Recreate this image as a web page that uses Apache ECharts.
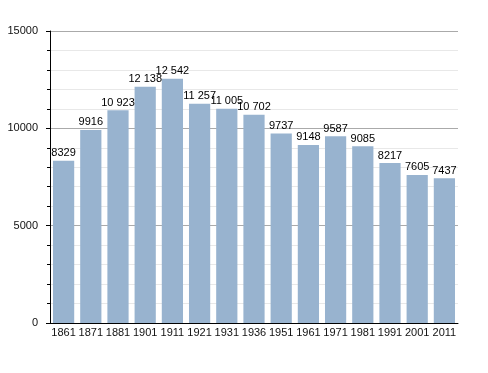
<!DOCTYPE html>
<html><head><meta charset="utf-8">
<script src="https://cdn.jsdelivr.net/npm/echarts@6/dist/echarts.min.js"></script>
<style>html,body{margin:0;padding:0;background:#fff}#c{width:488px;height:373px}</style>
</head><body><div id="c"></div>
<script>
var categories = ['1861','1871','1881','1901','1911','1921','1931','1936','1951','1961','1971','1981','1991','2001','2011'];
var population = [8329,9916,10923,12138,12542,11257,11005,10702,9737,9148,9587,9085,8217,7605,7437];
var yTicks = [0,5000,10000,15000];

function fmt(v){
  if (v >= 10000) { var s = String(v); return s.slice(0, s.length-3) + ' ' + s.slice(-3); }
  return String(v);
}
var chart = echarts.init(document.getElementById('c'), null, {renderer:'canvas'});
chart.setOption({
  animation:false,
  backgroundColor:'#fff',
  grid:{left:50,right:30,top:31,bottom:50,containLabel:false},
  xAxis:{
    type:'category', data:categories,
    axisLine:{lineStyle:{color:'#000',width:1}},
    axisTick:{show:false},
    axisLabel:{color:'#111',fontFamily:'Liberation Sans, Arial, sans-serif',fontSize:11,margin:4,interval:0}
  },
  yAxis:{
    type:'value', min:yTicks[0], max:yTicks[yTicks.length-1], interval:5000,
    axisLine:{show:true,lineStyle:{color:'#000',width:1}},
    axisTick:{show:true,length:4,lineStyle:{color:'#000'}},
    minorTick:{show:true,splitNumber:5,length:3,lineStyle:{color:'#000'}},
    splitLine:{show:true,lineStyle:{color:'#aaaaaa',width:1}},
    minorSplitLine:{show:true,lineStyle:{color:'#e8e8e8',width:1}},
    axisLabel:{color:'#111',fontFamily:'Liberation Sans, Arial, sans-serif',fontSize:11,margin:12,
      formatter:function(v){return String(v);}}
  },
  series:[{
    type:'bar', data:population, barCategoryGap:'22%',
    itemStyle:{color:'#98b3cf'},
    label:{show:true,position:'top',distance:2,color:'#000',fontFamily:'Liberation Sans, Arial, sans-serif',fontSize:11,
      formatter:function(p){return fmt(p.value);}}
  }]
});
</script></body></html>
